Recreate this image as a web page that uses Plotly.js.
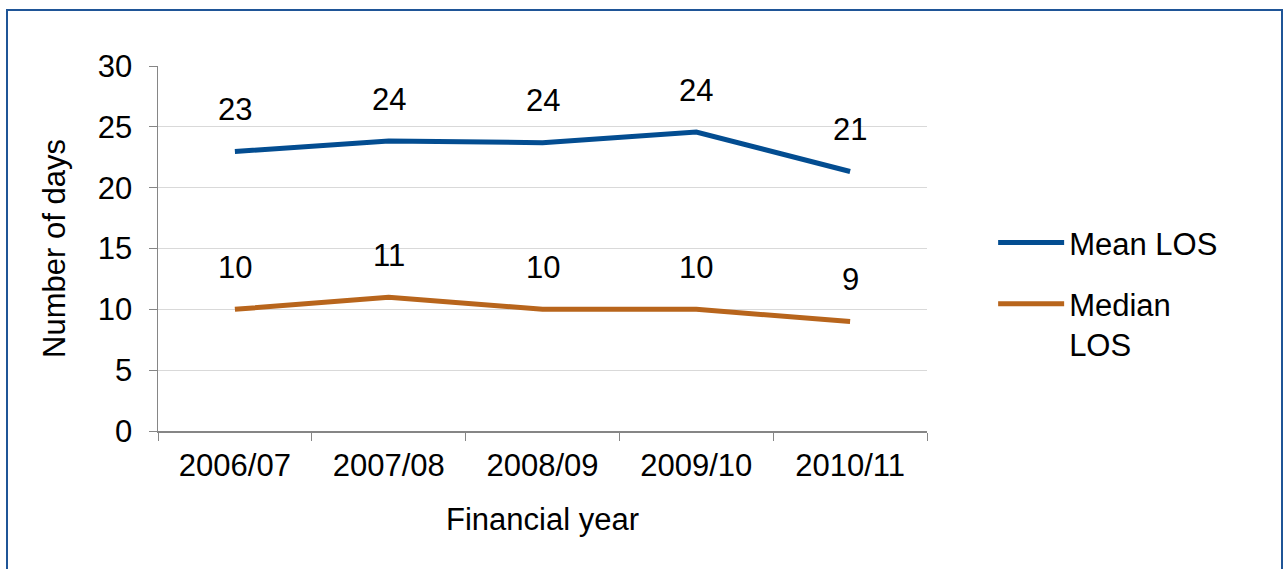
<!DOCTYPE html>
<html>
<head>
<meta charset="utf-8">
<script src="https://cdn.plot.ly/plotly-3.0.1.min.js"></script>
<style>
  html, body { margin: 0; padding: 0; background: #ffffff; overflow: hidden; }
  #frame { position: absolute; left: 6px; top: 9px; width: 1273px; height: 600px; border: 2px solid #1f5597; box-sizing: content-box; pointer-events: none; }
  #chart { position: absolute; left: 0; top: 0; width: 1283px; height: 569px; }
</style>
</head>
<body>
<div id="chart"></div>
<div id="frame"></div>
<script>
const years = ["2006/07", "2007/08", "2008/09", "2009/10", "2010/11"];
const meanLOS = [22.97, 23.83, 23.7, 24.57, 21.33];
const medianLOS = [10, 11, 10, 10, 9];
const meanLabels = ["23", "24", "24", "24", "21"];
const medianLabels = ["10", "11", "10", "10", "9"];
const seriesNames = ["Mean LOS", "Median<br>LOS"];
const seriesColors = ["#034d91", "#b8651c"];

const FONT = "Liberation Sans, Arial, sans-serif";
const FS = 31;

const traces = [
  { x: years, y: meanLOS, name: seriesNames[0], legendgroup: "mean", type: "scatter", mode: "lines",
    line: { color: seriesColors[0], width: 5 }, hoverinfo: "x+y" },
  { x: years, y: medianLOS, name: seriesNames[1], legendgroup: "median", type: "scatter", mode: "lines",
    line: { color: seriesColors[1], width: 5 }, hoverinfo: "x+y" }
];

function labelAnnots(xs, ys, texts) {
  return xs.map((x, i) => ({
    x: x, y: ys[i], xref: "x", yref: "y", text: texts[i], showarrow: false,
    yshift: 42, font: { family: FONT, size: FS, color: "#000000" }
  }));
}

const annotations = labelAnnots(years, meanLOS, meanLabels).concat(labelAnnots(years, medianLOS, medianLabels));

const layout = {
  width: 1283, height: 569,
  margin: { l: 158, r: 356, t: 66, b: 138, pad: 0 },
  paper_bgcolor: "#ffffff", plot_bgcolor: "#ffffff",
  font: { family: FONT, size: FS, color: "#000000" },
  showlegend: true,
  legend: {
    x: 1.086, xanchor: "left", y: 0.377, yanchor: "middle",
    font: { family: FONT, size: FS, color: "#000000" },
    bgcolor: "rgba(0,0,0,0)", itemwidth: 66, traceorder: "grouped",
    tracegroupgap: 18, valign: "top"
  },
  xaxis: {
    type: "category", range: [-0.5, 4.5], tickson: "boundaries",
    ticks: "outside", ticklen: 8, tickwidth: 1, tickcolor: "#868686",
    showline: true, linecolor: "#868686", linewidth: 1.5,
    showgrid: false, zeroline: false, ticklabelstandoff: 6,
    tickfont: { family: FONT, size: FS, color: "#000000" },
    title: { text: "Financial year", font: { family: FONT, size: FS, color: "#000000" }, standoff: 26 }
  },
  yaxis: {
    range: [0, 30], dtick: 5, tick0: 0,
    ticks: "outside", ticklen: 8, tickwidth: 1, tickcolor: "#868686",
    showline: true, linecolor: "#868686", linewidth: 1.5,
    showgrid: true, gridcolor: "#d9d9d9", gridwidth: 1.3, zeroline: false,
    ticklabelstandoff: 10,
    tickfont: { family: FONT, size: FS, color: "#000000" },
    title: { text: "Number of days", font: { family: FONT, size: FS, color: "#000000" }, standoff: 23 }
  },
  annotations: annotations
};

Plotly.newPlot("chart", traces, layout, { displayModeBar: false, staticPlot: true });
</script>
</body>
</html>
